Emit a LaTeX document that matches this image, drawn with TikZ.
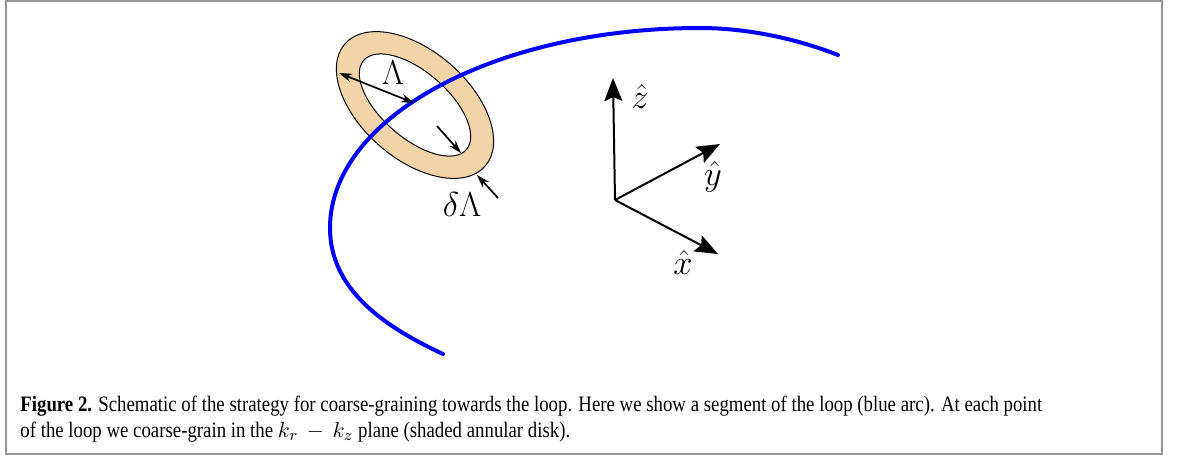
\documentclass[tikz,border=0pt]{standalone}
\usepackage{fontspec}
\usepackage{amsmath}
\usetikzlibrary{arrows.meta}
\newfontfamily\capfont[FakeStretch=0.855]{Liberation Serif}
\definecolor{annulus}{RGB}{243,212,168}
\definecolor{framegray}{RGB}{150,150,150}
\tikzset{dimtip/.tip={Stealth[length=6.5pt,width=4.2pt]}}
\begin{document}
\begin{tikzpicture}[x=0.5pt,y=-0.5pt,
  loopline/.style={draw=blue, line width=2pt, line cap=round},
  axisarrow/.style={line width=1pt, -{Stealth[length=11.5pt,width=9pt,inset=2pt]}},
  dimarrow/.style={line width=0.85pt},
  mathlabel/.style={inner sep=0pt, font=\fontsize{17}{20}\selectfont},
  captionline/.style={anchor=base west, inner sep=0pt, font=\capfont\fontsize{11}{13}\selectfont}]
\useasboundingbox (0,0) rectangle (1179,457);
\draw[framegray, line width=1pt] (6,1) rectangle (1162,454);
% annulus
\fill[annulus, even odd rule]
  [rotate around={-41:(415,105)}] (415,105) ellipse [x radius=46.5pt, y radius=27pt]
  (415,105) ellipse [x radius=34pt, y radius=16.5pt];
\draw[line width=0.5pt, rotate around={-41:(415,105)}] (415,105) ellipse [x radius=46.5pt, y radius=27pt];
\draw[line width=0.5pt, rotate around={-41:(415,105)}] (415,105) ellipse [x radius=34pt, y radius=16.5pt];
% blue loop segment
\coordinate (arcA) at (443,354);
\coordinate (arcB) at (330,228);
\coordinate (arcC) at (700,28);
\coordinate (arcD) at (838,55);
\draw[loopline] (arcA) .. controls (385,327) and (330,290) .. (arcB)
  .. controls (330,117) and (496,28) .. (arcC)
  .. controls (750,28) and (800,40) .. (arcD);
% dimension arrows
\coordinate (La) at (339,73);
\coordinate (Lb) at (414,103);
\draw[dimarrow, {dimtip}-{dimtip}] (La) -- (Lb);
\coordinate (da) at (437,126);
\coordinate (db) at (461,153);
\draw[dimarrow, -{dimtip}] (da) -- (db);
\coordinate (dc) at (498,198);
\coordinate (dd) at (477,175);
\draw[dimarrow, -{dimtip}] (dc) -- (dd);
\node[mathlabel] (lam) at (393,73) {$\Lambda$};
\node[mathlabel] (dlam) at (462,204) {$\delta\Lambda$};
% axes
\coordinate (O) at (615,200);
\coordinate (zt) at (613,78);
\coordinate (yt) at (720,144);
\coordinate (xt) at (718,254);
\draw[axisarrow] (O) -- (zt);
\draw[axisarrow] (O) -- (yt);
\draw[axisarrow] (O) -- (xt);
\node[mathlabel] (zl) at (640,96) {$\hat{z}$};
\node[mathlabel] (yl) at (713,177) {$\hat{y}$};
\node[mathlabel] (xl) at (683,262) {$\hat{x}$};
% caption
\node[captionline] (cap1) at (20,411) {\textbf{Figure 2.} Schematic of the strategy for coarse-graining towards the loop. Here we show a segment of the loop (blue arc). At each point};
\node[captionline] (cap2) at (20,437) {of the loop we coarse-grain in the $k_r\,-\,k_z$ plane (shaded annular disk).};
\end{tikzpicture}
\end{document}
